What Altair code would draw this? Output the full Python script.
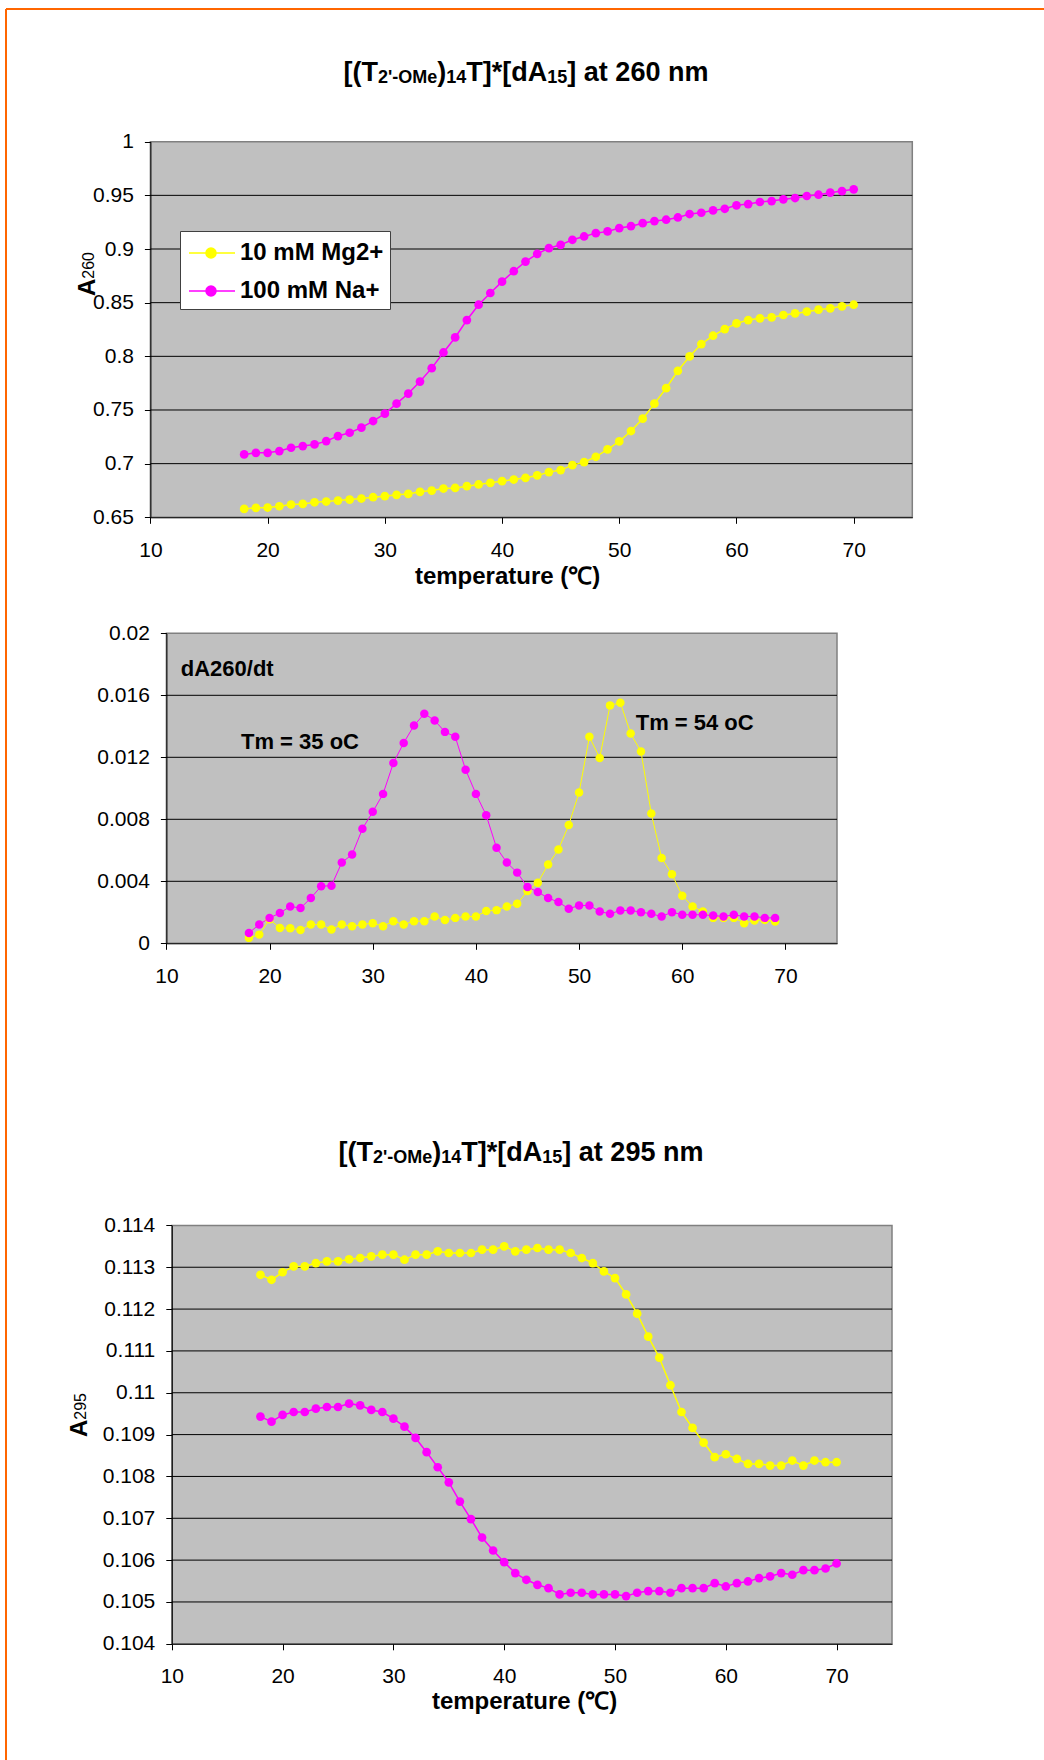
import altair as alt
import pandas as pd

W, H = 1044, 1760
FONT = "Liberation Sans, Arial, Helvetica, sans-serif"

# ---------------- data ----------------
series_names = ["10 mM Mg2+", "100 mM Na+"]
series_colors = ["#FFFF00", "#FF00FF"]

temp_260 = list(range(18, 71))
mg_260 = [0.6578, 0.6588, 0.6591, 0.6603, 0.6619, 0.6625, 0.6640, 0.6647, 0.6656, 0.6665,
          0.6675, 0.6687, 0.6697, 0.6709, 0.6718, 0.6737, 0.6749, 0.6768, 0.6774, 0.6790,
          0.6806, 0.6821, 0.6837, 0.6852, 0.6868, 0.6890, 0.6921, 0.6940, 0.6986, 0.7014,
          0.7064, 0.7133, 0.7207, 0.7304, 0.7419, 0.7559, 0.7703, 0.7865, 0.7999, 0.8114,
          0.8192, 0.8254, 0.8307, 0.8338, 0.8354, 0.8363, 0.8385, 0.8400, 0.8416, 0.8435,
          0.8447, 0.8466, 0.8481]
na_260 = [0.7086, 0.7101, 0.7101, 0.7117, 0.7148, 0.7164, 0.7179, 0.7210, 0.7257, 0.7288,
          0.7335, 0.7397, 0.7466, 0.7559, 0.7653, 0.7765, 0.7890, 0.8036, 0.8176, 0.8338,
          0.8481, 0.8590, 0.8696, 0.8793, 0.8883, 0.8955, 0.9008, 0.9039, 0.9086, 0.9117,
          0.9148, 0.9164, 0.9195, 0.9213, 0.9241, 0.9260, 0.9273, 0.9294, 0.9326, 0.9338,
          0.9360, 0.9375, 0.9407, 0.9419, 0.9438, 0.9447, 0.9463, 0.9475, 0.9494, 0.9506,
          0.9525, 0.9540, 0.9556]

temp_d = list(range(18, 70))
mg_d = [0.00035, 0.00056, 0.00155, 0.00099, 0.00097, 0.00086, 0.00121, 0.00121, 0.00089, 0.00121,
        0.00110, 0.00121, 0.00130, 0.00110, 0.00143, 0.00121, 0.00143, 0.00143, 0.00173, 0.00151,
        0.00164, 0.00173, 0.00173, 0.00208, 0.00214, 0.00238, 0.00255, 0.00337, 0.00391, 0.00508,
        0.00605, 0.00763, 0.00973, 0.01332, 0.01196, 0.01535, 0.01552, 0.01353, 0.01237, 0.00837,
        0.00551, 0.00445, 0.00307, 0.00238, 0.00205, 0.00164, 0.00164, 0.00164, 0.00130, 0.00147,
        0.00151, 0.00141]
na_d = [0.00067, 0.00121, 0.00164, 0.00195, 0.00238, 0.00227, 0.00292, 0.00368, 0.00372, 0.00521,
        0.00573, 0.00739, 0.00848, 0.00964, 0.01163, 0.01293, 0.01405, 0.01481, 0.01438, 0.01364,
        0.01332, 0.01120, 0.00964, 0.00826, 0.00616, 0.00521, 0.00456, 0.00363, 0.00331, 0.00292,
        0.00266, 0.00223, 0.00244, 0.00244, 0.00205, 0.00190, 0.00212, 0.00212, 0.00201, 0.00190,
        0.00173, 0.00201, 0.00184, 0.00184, 0.00184, 0.00179, 0.00173, 0.00184, 0.00173, 0.00173,
        0.00164, 0.00164]

temp_295 = list(range(18, 71))
mg_295 = [0.11282, 0.11270, 0.11288, 0.11302, 0.11302, 0.11310, 0.11314, 0.11314, 0.11319, 0.11322,
          0.11326, 0.11330, 0.11330, 0.11318, 0.11330, 0.11330, 0.11338, 0.11334, 0.11334, 0.11334,
          0.11342, 0.11342, 0.11350, 0.11338, 0.11342, 0.11346, 0.11342, 0.11342, 0.11334, 0.11322,
          0.11310, 0.11290, 0.11274, 0.11235, 0.11189, 0.11134, 0.11084, 0.11018, 0.10954, 0.10916,
          0.10881, 0.10846, 0.10853, 0.10842, 0.10830, 0.10830, 0.10826, 0.10826, 0.10838, 0.10826,
          0.10838, 0.10834, 0.10834]
na_295 = [0.10943, 0.10931, 0.10947, 0.10954, 0.10954, 0.10962, 0.10966, 0.10966, 0.10974, 0.10970,
          0.10959, 0.10954, 0.10938, 0.10919, 0.10892, 0.10858, 0.10822, 0.10786, 0.10740, 0.10698,
          0.10654, 0.10623, 0.10595, 0.10569, 0.10553, 0.10541, 0.10533, 0.10518, 0.10522, 0.10522,
          0.10518, 0.10518, 0.10518, 0.10514, 0.10522, 0.10526, 0.10526, 0.10522, 0.10533, 0.10533,
          0.10533, 0.10545, 0.10537, 0.10545, 0.10549, 0.10557, 0.10561, 0.10569, 0.10565, 0.10576,
          0.10576, 0.10580, 0.10592]

x_ticks = [10, 20, 30, 40, 50, 60, 70]
x_domain = [10, 75]
y_ticks_260 = [0.65, 0.7, 0.75, 0.8, 0.85, 0.9, 0.95, 1.0]
y_ticks_d = [0, 0.004, 0.008, 0.012, 0.016, 0.02]
y_ticks_295 = [0.104, 0.105, 0.106, 0.107, 0.108, 0.109, 0.110, 0.111, 0.112, 0.113, 0.114]

title_260 = [("[(T", 0), ("2'-OMe", 1), (")", 0), ("14", 1), ("T]*[dA", 0), ("15", 1), ("] at 260 nm", 0)]
title_295 = [("[(T", 0), ("2'-OMe", 1), (")", 0), ("14", 1), ("T]*[dA", 0), ("15", 1), ("] at 295 nm", 0)]
x_title = "temperature (\u2103)"
annotations_d = ["dA260/dt", "Tm = 35 oC", "Tm = 54 oC"]
annot_t = [11.39, 17.23, 55.49]
annot_v = [0.01770, 0.01297, 0.01419]

# ---------------- layout (pixels) ----------------
P1 = dict(x=[150.4, 912.3], y=[517.3, 141.7], ydom=[0.65, 1.0], ticks=y_ticks_260)
P2 = dict(x=[166.4, 837.0], y=[943.3, 633.3], ydom=[0.0, 0.02], ticks=y_ticks_d)
P3 = dict(x=[171.8, 892.0], y=[1643.8, 1225.4], ydom=[0.104, 0.114], ticks=y_ticks_295)

color_scale = alt.Scale(domain=series_names, range=series_colors)
SYM = "M-0.867,0H2.2M0.933,0A0.333,0.333,0,1,1,0.267,0A0.333,0.333,0,1,1,0.933,0Z"
leg = alt.Legend(title=None, orient="none", legendX=180, legendY=231, padding=6,
                 fillColor="white", strokeColor="#404040", symbolType=SYM, symbolSize=900,
                 symbolStrokeWidth=1.5, symbolOpacity=1, labelFont=FONT, labelFontSize=24,
                 labelFontWeight="bold", labelColor="black", labelOffset=22, rowPadding=10,
                 labelLimit=400, cornerRadius=0)


def long_df(t, a, b):
    return pd.DataFrame({"t": t + t, "v": a + b,
                         "series": [series_names[0]] * len(a) + [series_names[1]] * len(b)})


def scales(P):
    xs = alt.Scale(domain=x_domain, range=P["x"], nice=False, zero=False)
    ys = alt.Scale(domain=P["ydom"], range=P["y"], nice=False, zero=False)
    return xs, ys


def panel(P, df, line_w, pt_size):
    xs, ys = scales(P)
    xoff = -(H - P["y"][0])
    yoff = -P["x"][0]
    common = dict(grid=False, domainColor="black", domainWidth=1, tickColor="black",
                  tickSize=6, tickWidth=1, labelFont=FONT, labelFontSize=21,
                  labelColor="black", labelFlush=False, labelOverlap=False, title=None,
                  zindex=1, format=".6~g")
    xa = alt.Axis(orient="bottom", offset=xoff, values=x_ticks, labelPadding=27,
                  labelBaseline="middle", **common)
    ya = alt.Axis(orient="left", offset=yoff, values=P["ticks"], labelPadding=11, **common)
    bg = alt.Chart(pd.DataFrame({"a": [x_domain[0]], "b": [x_domain[1]],
                                 "c": [P["ydom"][0]], "d": [P["ydom"][1]]})).mark_rect(
        fill="#C0C0C0", stroke="#808080", strokeWidth=1.5).encode(
        x=alt.X("a:Q", scale=xs, axis=xa), x2="b:Q",
        y=alt.Y("c:Q", scale=ys, axis=ya), y2="d:Q")
    gvals = P["ticks"][1:-1]
    grid = alt.Chart(pd.DataFrame({"g": gvals, "a": [x_domain[0]] * len(gvals),
                                   "b": [x_domain[1]] * len(gvals)})).mark_rule(
        color="black", strokeWidth=1).encode(
        x=alt.X("a:Q", scale=xs, axis=None), x2="b:Q",
        y=alt.Y("g:Q", scale=ys, axis=None))
    lines = alt.Chart(df).mark_line(strokeWidth=line_w).encode(
        x=alt.X("t:Q", scale=xs, axis=None), y=alt.Y("v:Q", scale=ys, axis=None),
        color=alt.Color("series:N", scale=color_scale, legend=leg))
    pts = alt.Chart(df).mark_point(filled=True, size=pt_size, opacity=1).encode(
        x=alt.X("t:Q", scale=xs, axis=None), y=alt.Y("v:Q", scale=ys, axis=None),
        color=alt.Color("series:N", scale=color_scale, legend=leg))
    return [bg, grid, lines, pts]


# ---------------- text helpers ----------------
AW_BOLD = {'[': 333, '(': 333, 'T': 611, ')': 333, ']': 333, '*': 389, 'd': 611, 'A': 722,
           ' ': 278, 'a': 556, 't': 333, 'n': 611, 'm': 889, "'": 238, '-': 333, 'O': 778,
           'M': 833, 'e': 556}
for _c in "0123456789":
    AW_BOLD[_c] = 556


def tw(s, size):
    return sum(AW_BOLD.get(c, 556) for c in s) * size / 1000.0


def title_rows(parts, cx, base_y, S, s, sub_dy):
    total = sum(tw(t, s if sub else S) for t, sub in parts)
    x = cx - total / 2.0
    rows = []
    for t, sub in parts:
        fs = s if sub else S
        rows.append({"text": t, "px": x, "py": base_y + (sub_dy if sub else 0), "fs": fs})
        x += tw(t, fs)
    return pd.DataFrame(rows)


def text_layer(df, **kw):
    return alt.Chart(df).mark_text(font=FONT, color="black", **kw).encode(
        x=alt.X("px:Q", scale=None, axis=None),
        y=alt.Y("py:Q", scale=None, axis=None),
        text="text:N",
        size=alt.Size("fs:Q", scale=None, legend=None))


layers = []
layers += panel(P1, long_df(temp_260, mg_260, na_260), 1.5, 76)
layers += panel(P2, long_df(temp_d, mg_d, na_d), 1.0, 72)
layers += panel(P3, long_df(temp_295, mg_295, na_295), 1.5, 76)

# annotations on derivative panel, in data coordinates
xs2, ys2 = scales(P2)
ann = pd.DataFrame({"text": annotations_d, "t": annot_t, "v": annot_v})
layers.append(alt.Chart(ann).mark_text(font=FONT, fontSize=22, fontWeight="bold", color="black",
                                       align="left", baseline="middle").encode(
    x=alt.X("t:Q", scale=xs2, axis=None), y=alt.Y("v:Q", scale=ys2, axis=None), text="text:N"))

# titles
layers.append(text_layer(title_rows(title_260, 526, 81, 27, 18, 2),
                         align="left", baseline="alphabetic", fontWeight="bold"))
layers.append(text_layer(title_rows(title_295, 521, 1161, 27, 18, 2),
                         align="left", baseline="alphabetic", fontWeight="bold"))
# x axis titles
layers.append(text_layer(pd.DataFrame({"text": [x_title, x_title], "px": [507.6, 524.6],
                                       "py": [577, 1702], "fs": [24, 24]}),
                         align="center", baseline="middle", fontWeight="bold"))
# y axis titles (A + subscript)
a_w = 0.722 * 24
layers.append(text_layer(pd.DataFrame({"text": ["A", "A"], "px": [95, 86.5],
                                       "py": [296, 1437], "fs": [24, 24]}),
                         align="left", baseline="alphabetic", fontWeight="bold", angle=270))
layers.append(text_layer(pd.DataFrame({"text": ["260", "295"], "px": [94, 85.5],
                                       "py": [296 - a_w, 1437 - a_w], "fs": [16, 16]}),
                         align="left", baseline="alphabetic", angle=270))

# orange frame (top and left)
one = pd.DataFrame({"a": [0]})
layers.append(alt.Chart(one).mark_rule(color="#FF6600", strokeWidth=2).encode(
    x=alt.value(6), y=alt.value(9), y2=alt.value(H)))
layers.append(alt.Chart(one).mark_rule(color="#FF6600", strokeWidth=2).encode(
    x=alt.value(6), x2=alt.value(W), y=alt.value(9)))

chart = alt.layer(*layers).resolve_scale(x="independent", y="independent").properties(
    width=W, height=H, padding=0, autosize=alt.AutoSizeParams(type="none"),
    background="white").configure_view(stroke=None)

chart.save("out.html", embed_options={"renderer": "svg", "actions": False})
